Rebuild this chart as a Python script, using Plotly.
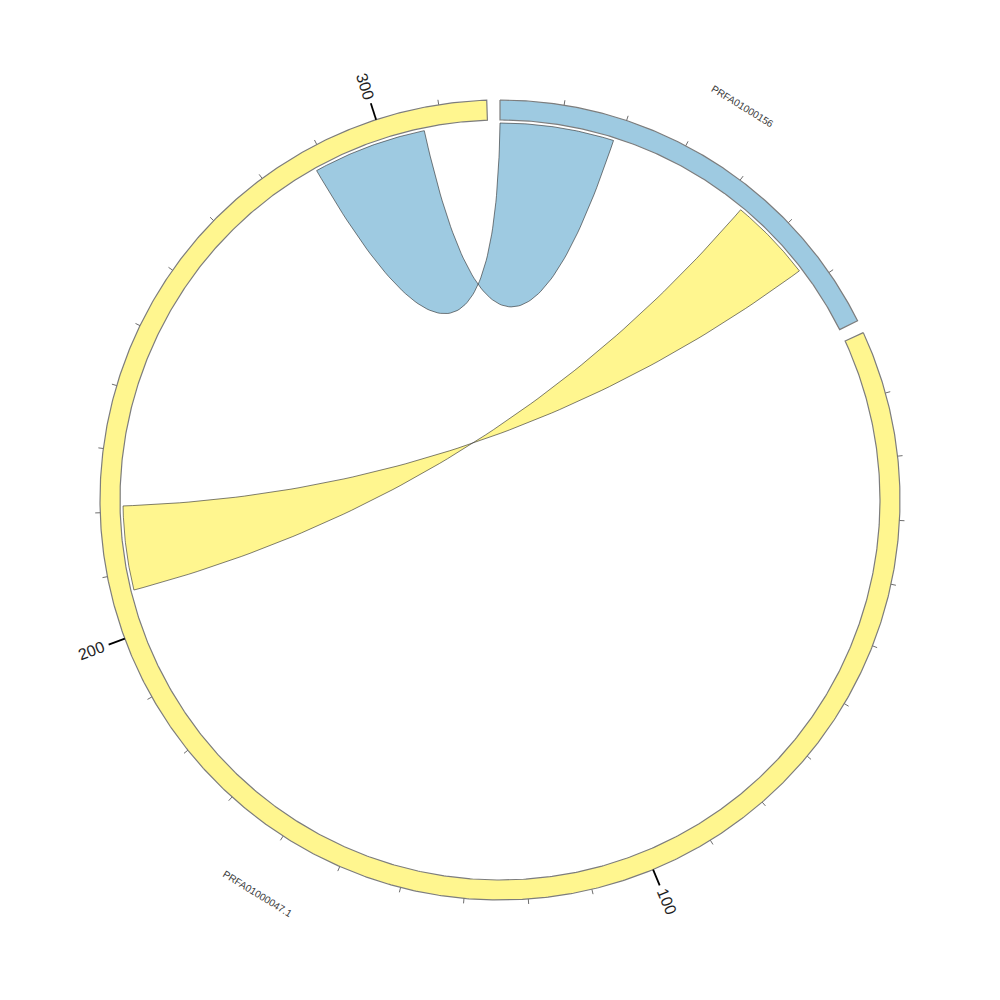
import numpy as np
import plotly.graph_objects as go

# Sequences drawn clockwise from 12 o'clock (lengths in kb)
seq_names = ["PRFA01000156", "PRFA01000047.1"]
seq_lengths = [68.7, 317.5]
seq_colors = ["#9ecae1", "#fff68f"]

# Links between sequences: source arc -> target arc (start pairs with start)
link_src = [0, 1]
link_src_start = [0, 207]
link_src_end = [19, 221]
link_tgt = [1, 0]
link_tgt_start = [288, 43]
link_tgt_end = [307, 57]

# Tick spacing along each sequence
minor_step = 10
major_step = 100

# Geometry (data units; the plot spans -1.25..1.25)
R_OUT, R_IN, R_RIB = 1.0, 0.95, 0.9425
GAP_DEG = 1.9
START_DEG = 90.0
BEND = 0.06

deg_per_unit = (360.0 - len(seq_lengths) * GAP_DEG) / sum(seq_lengths)
seq_start = []
a = START_DEG
for L in seq_lengths:
    seq_start.append(a)
    a -= L * deg_per_unit + GAP_DEG


def ang(i, pos):
    return np.deg2rad(seq_start[i] - pos * deg_per_unit)


def pt(theta, r):
    return r * np.cos(theta), r * np.sin(theta)


def arc(t0, t1, r, n=None):
    if n is None:
        n = max(8, int(abs(np.rad2deg(t1 - t0)) * 3))
    t = np.linspace(t0, t1, n)
    return r * np.cos(t), r * np.sin(t)


def qbezier(p0, p2, n=80):
    c = (BEND * (p0[0] + p2[0]) / 2, BEND * (p0[1] + p2[1]) / 2)
    t = np.linspace(0, 1, n)
    x = (1 - t) ** 2 * p0[0] + 2 * t * (1 - t) * c[0] + t ** 2 * p2[0]
    y = (1 - t) ** 2 * p0[1] + 2 * t * (1 - t) * c[1] + t ** 2 * p2[1]
    return x, y


fig = go.Figure()

# Ribbons
for s, s0, s1, g, g0, g1 in zip(link_src, link_src_start, link_src_end,
                                link_tgt, link_tgt_start, link_tgt_end):
    a0, a1 = ang(s, s0), ang(s, s1)
    b0, b1 = ang(g, g0), ang(g, g1)
    xs, ys = [], []
    x, y = arc(a0, a1, R_RIB); xs += list(x); ys += list(y)
    x, y = qbezier(pt(a1, R_RIB), pt(b1, R_RIB)); xs += list(x); ys += list(y)
    x, y = arc(b1, b0, R_RIB); xs += list(x); ys += list(y)
    x, y = qbezier(pt(b0, R_RIB), pt(a0, R_RIB)); xs += list(x); ys += list(y)
    fig.add_trace(go.Scatter(
        x=xs, y=ys, mode="lines", fill="toself",
        fillcolor=seq_colors[s],
        line=dict(color="rgb(40,40,40)", width=0.6),
        hoverinfo="skip", showlegend=False))

# Ideogram ring segments
for i, L in enumerate(seq_lengths):
    t0, t1 = ang(i, 0), ang(i, L)
    xo, yo = arc(t0, t1, R_OUT)
    xi, yi = arc(t1, t0, R_IN)
    xs = list(xo) + list(xi) + [xo[0]]
    ys = list(yo) + list(yi) + [yo[0]]
    fig.add_trace(go.Scatter(
        x=xs, y=ys, mode="lines", fill="toself",
        fillcolor=seq_colors[i],
        line=dict(color="rgb(125,125,125)", width=1.2),
        hoverinfo="text", text=seq_names[i], showlegend=False))

# Ticks and tick labels
minor_x, minor_y, major_x, major_y = [], [], [], []
annotations = []
for i, L in enumerate(seq_lengths):
    pos = minor_step
    while pos < L:
        t = ang(i, pos)
        if pos % major_step == 0:
            x0, y0 = pt(t, R_OUT)
            x1, y1 = pt(t, 1.043)
            major_x += [x0, x1, None]
            major_y += [y0, y1, None]
            lx, ly = pt(t, 1.0875)
            ta = -np.rad2deg(t)
            ta = (ta + 90) % 180 - 90
            annotations.append(dict(
                x=lx, y=ly, xref="x", yref="y", text=str(pos),
                showarrow=False, textangle=ta,
                xanchor="center", yanchor="middle",
                font=dict(family="Liberation Sans, Arial", size=16,
                          color="rgb(30,30,30)")))
        else:
            x0, y0 = pt(t, R_OUT)
            x1, y1 = pt(t, R_OUT + 0.0125)
            minor_x += [x0, x1, None]
            minor_y += [y0, y1, None]
        pos += minor_step

fig.add_trace(go.Scatter(x=minor_x, y=minor_y, mode="lines",
                         line=dict(color="rgb(110,110,110)", width=1),
                         hoverinfo="skip", showlegend=False))
fig.add_trace(go.Scatter(x=major_x, y=major_y, mode="lines",
                         line=dict(color="black", width=1.8),
                         hoverinfo="skip", showlegend=False))

# Sequence names, tangential at each segment's middle
for i, L in enumerate(seq_lengths):
    t = ang(i, L / 2)
    lx, ly = pt(t, 1.156)
    ta = 90 - np.rad2deg(t)
    ta = (ta + 90) % 180 - 90
    annotations.append(dict(
        x=lx, y=ly, xref="x", yref="y", text=seq_names[i],
        showarrow=False, textangle=ta,
        xanchor="center", yanchor="middle",
        font=dict(family="Liberation Sans, Arial", size=10,
                  color="rgb(60,60,60)")))

fig.update_layout(
    width=1000, height=1000,
    margin=dict(l=0, r=0, t=0, b=0),
    paper_bgcolor="white", plot_bgcolor="white",
    xaxis=dict(range=[-1.25, 1.25], visible=False, fixedrange=True),
    yaxis=dict(range=[-1.25, 1.25], visible=False, fixedrange=True),
    annotations=annotations,
    showlegend=False,
)

fig.write_html("out.html")
